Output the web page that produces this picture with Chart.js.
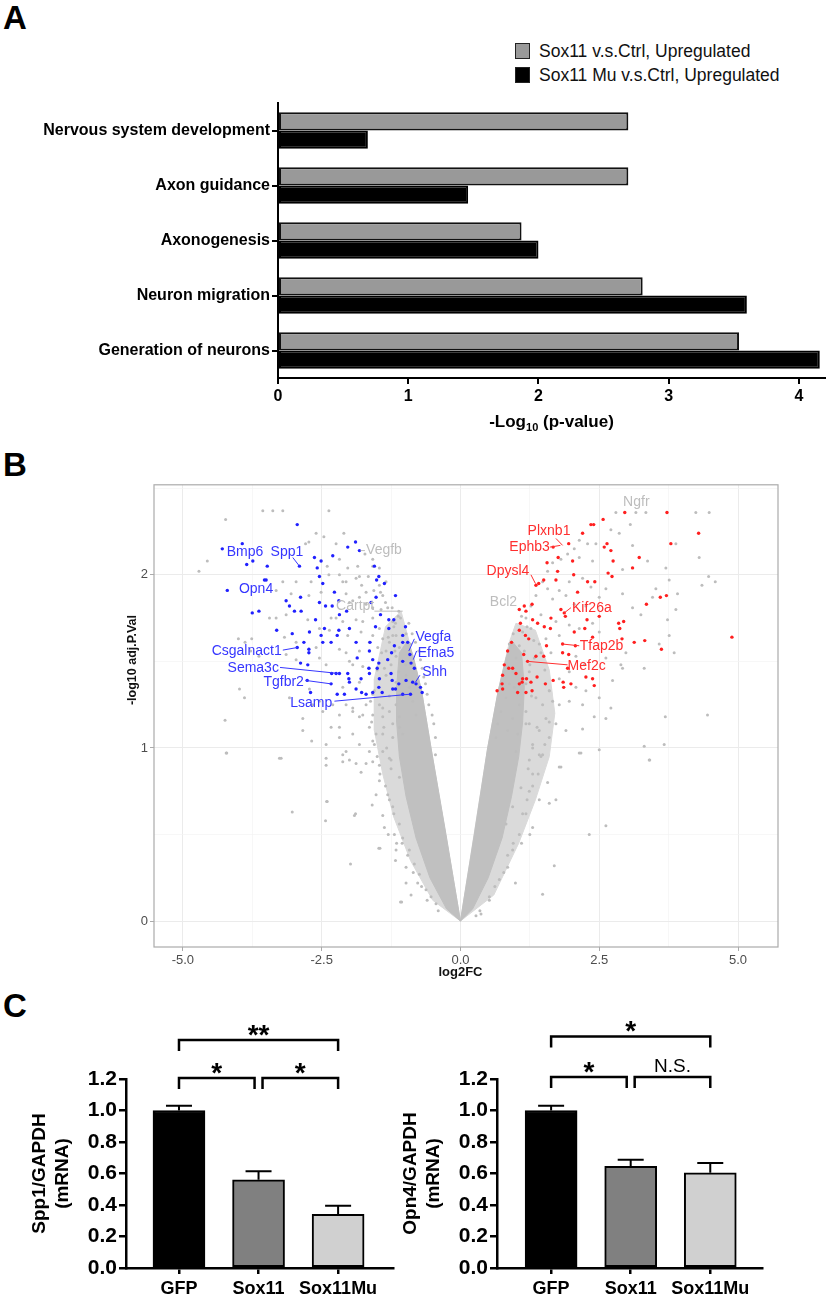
<!DOCTYPE html>
<html>
<head>
<meta charset="utf-8">
<script src="https://cdn.jsdelivr.net/npm/chart.js@4.4.1/dist/chart.umd.min.js"></script>
<style>
  html, body { margin: 0; padding: 0; background: #fff; }
  body { width: 828px; height: 1298px; position: relative; overflow: hidden; font-family: "Liberation Sans", Arial, sans-serif; }
  .letter { position: absolute; left: 3px; font-weight: bold; font-size: 33px; line-height: 1; color: #000; }
  .holder { position: absolute; }
  canvas { display: block; }
  .legend-row { position: absolute; left: 515px; height: 20px; display: flex; align-items: center; font-size: 17.5px; color: #111; white-space: nowrap; }
  .swatch { width: 13px; height: 14px; border: 1.5px solid #222; margin-right: 9px; }
</style>
</head>
<body>

<div class="letter" style="top:1px">A</div>
<div class="letter" style="top:448px">B</div>
<div class="letter" style="top:989px">C</div>

<div class="legend-row" style="top:41px"><span class="swatch" style="background:#999"></span><span id="legA0"></span></div>
<div class="legend-row" style="top:65px"><span class="swatch" style="background:#000"></span><span id="legA1"></span></div>

<div class="holder" style="left:0;top:90px"><canvas id="chartA" width="828" height="345"></canvas></div>
<div class="holder" style="left:100px;top:475px"><canvas id="chartB" width="700" height="515"></canvas></div>
<div class="holder" style="left:0;top:1000px"><canvas id="chartC1" width="414" height="298"></canvas></div>
<div class="holder" style="left:380px;top:1000px"><canvas id="chartC2" width="448" height="298"></canvas></div>

<script>
// ========================================
// FIGURE DATA
// ========================================

// Panel A: GO terms, -log10 p-values
const termsA = ["Nervous system development", "Axon guidance", "Axonogenesis", "Neuron migration", "Generation of neurons"]
const seriesNamesA = ["Sox11 v.s.Ctrl, Upregulated", "Sox11 Mu v.s.Ctrl, Upregulated"]
const sox11Up = [2.69, 2.69, 1.87, 2.80, 3.54]
const sox11MuUp = [0.69, 1.46, 2.00, 3.60, 4.16]

// Panel B: volcano, [log2FC, -log10 adj.P.Val]
// outlines of the dense bands of the cloud
const coreLeft = [[0,0],[-0.26,0.5],[-0.53,1.0],[-0.7,1.33],[-0.85,1.53],[-0.95,1.62],[-1.1,1.55],[-1.15,1.35],[-1.15,1.15],[-1.1,0.95],[-0.98,0.72],[-0.8,0.48],[-0.55,0.25],[-0.25,0.07],[0,0]]
const coreRight = [[0,0],[0.25,0.5],[0.49,1.0],[0.68,1.33],[0.82,1.52],[0.92,1.62],[1.1,1.55],[1.15,1.35],[1.12,1.15],[1.05,0.95],[0.92,0.72],[0.75,0.48],[0.5,0.25],[0.22,0.07],[0,0]]
const haloLeft = [[0,0],[-0.53,1.0],[-0.7,1.33],[-0.92,1.61],[-1.07,1.79],[-1.35,1.7],[-1.55,1.4],[-1.55,1.1],[-1.4,0.85],[-1.2,0.6],[-0.9,0.35],[-0.5,0.12],[0,0]]
const haloRight = [[0,0],[0.49,1.0],[0.68,1.33],[0.88,1.61],[1.0,1.72],[1.35,1.68],[1.6,1.45],[1.7,1.2],[1.6,0.95],[1.35,0.7],[1.05,0.45],[0.6,0.15],[0,0]]

const grayGenes = [
  [-3.56,2.37],[-3.38,2.37],[-3.20,2.37],[-2.37,2.37],[-4.23,2.32],[-4.56,2.08],[-4.71,2.02],
  [-2.79,2.18],[-2.73,2.19],[-2.60,2.24],[-2.46,2.22],[-2.10,2.24],[-2.24,2.18],[-1.72,2.12],[-1.58,2.05],[-1.85,2.05],[-2.03,2.04],[-2.18,2.09],[-2.40,2.05],[-2.37,2.00],[-2.18,2.00],[-2.06,1.96],[-1.88,1.98],[-1.78,1.94],[-1.66,1.99],[-1.56,1.91],[-1.44,1.90],[-1.35,1.84],[-1.23,1.81],[-1.11,1.79],[-1.08,1.75],[-1.17,1.72],[-0.93,1.72],[-0.87,1.66],[-0.81,1.61],[-0.75,1.56],[-0.72,1.51],[-0.69,1.46],[-0.66,1.41],[-0.63,1.37],[-0.60,1.31],[-0.57,1.25],[-0.51,1.19],[-0.48,1.14],[-0.45,1.06],[-0.45,0.96],
  [-2.96,1.96],[-3.20,1.96],[-2.69,1.96],[-3.32,1.91],[-3.05,1.89],[-2.73,1.88],[-2.51,1.90],[-2.06,1.89],[-1.94,1.85],[-1.82,1.87],[-1.70,1.83],[-3.14,1.77],[-3.44,1.75],[-3.32,1.75],[-2.75,1.74],[-2.33,1.75],[-2.12,1.73],[-1.88,1.74],[-1.58,1.75],[-1.43,1.80],[-2.54,1.69],[-2.36,1.68],[-2.03,1.65],[-1.79,1.67],[-1.58,1.65],[-1.40,1.63],[-1.22,1.65],[-4.00,1.63],[-3.88,1.61],[-3.76,1.63],[-3.17,1.64],[-2.96,1.61],[-2.60,1.58],[-2.18,1.57],[-2.06,1.55],[-1.82,1.56],[-1.49,1.58],[-1.34,1.56],[-1.16,1.53],[-3.78,1.56],[-3.63,1.53],[-3.14,1.54],[-2.96,1.51],[-2.54,1.52],[-2.42,1.48],[-1.94,1.48],[-1.76,1.47],[-1.37,1.46],[-1.11,1.44],[-0.99,1.48],
  [-3.98,1.34],[-3.89,1.29],[-4.24,1.16],[-4.21,0.97],[-3.26,0.94],[-3.08,1.29],[-2.84,1.17],[-2.72,1.34],[-2.66,1.25],[-2.54,1.27],[-2.48,1.21],[-2.30,1.25],[-2.18,1.19],[-2.06,1.25],[-1.94,1.21],[-1.82,1.18],[-1.70,1.25],[-1.58,1.19],[-1.46,1.25],[-1.40,1.18],[-1.28,1.21],[-1.16,1.25],[-1.10,1.18],[-1.64,1.12],[-1.94,1.08],[-2.18,1.06],[-2.33,1.12],[-2.42,1.02],[-2.06,0.98],[-1.82,1.02],[-1.58,1.04],[-1.40,1.08],[-1.22,1.06],[-1.10,1.12],[-2.68,1.04],[-2.84,1.10],[-2.12,0.92],[-1.88,0.91],[-1.58,0.92],[-1.28,0.94],
  [-0.80,1.19],[-0.86,1.27],[-0.92,1.35],[-0.98,1.42],[-1.04,1.50],[-1.10,1.58],[-1.16,1.65],[-1.22,1.73],[-1.31,1.81],[-1.40,1.88],[-1.46,1.94],[-1.22,1.14],[-1.40,1.23],[-1.58,1.31],[-1.76,1.19],[-1.52,1.08],[-1.04,1.08],[-1.16,1.38],[-1.34,1.42],[-1.64,1.46],[-1.82,1.38],[-2.00,1.50],[-2.12,1.35],[-1.94,1.23],[-2.18,1.12],[-1.28,1.61],[-1.46,1.69],[-1.64,1.61],[-1.76,1.73],[-1.58,1.81],[-1.70,1.90],[-1.82,1.99],[-2.00,1.84],[-2.12,1.96],[-2.24,1.75],[-1.34,1.96],[-1.46,2.04],[-1.58,2.09],
  [-2.42,0.94],[-2.42,0.90],[-2.40,0.69],[-2.43,0.58],[-1.91,0.61],[-1.98,0.33],[-1.47,0.42],[-1.08,0.11],[-0.98,0.22],[-0.89,0.15],[-1.17,0.35],[-1.16,0.41],[-1.40,0.61],[-1.59,0.67],[-2.12,0.96],[-2.00,0.93],[-1.79,0.86],[-1.70,0.91],[-1.46,0.81],[-1.31,0.73],[-1.22,0.66],[-1.10,0.56],[-1.04,0.48],[-0.92,0.41],[-0.83,0.33],[-0.74,0.27],[-0.62,0.18],[-0.53,0.14],[-0.44,0.10],[-1.52,0.73],[-1.64,0.98],[-1.40,0.98],[-1.25,0.93],[-1.46,0.90],[-1.10,0.83],[-1.37,0.54],[-1.19,0.50],[-0.98,0.31],[-0.77,0.22],
  [-1.20,0.62],[-1.28,0.70],[-1.35,0.78],[-1.05,0.45],[-0.95,0.38],[-0.70,0.20],[-0.60,0.12],[-0.40,0.06],[-1.45,0.85],[-1.50,0.95],[-1.55,1.02],[-1.60,1.15],[-1.62,1.27],[-1.55,1.33],[-1.50,1.45],[-1.42,1.55],[-1.30,1.64],[-1.20,1.70],[-1.12,1.76],[-0.98,1.66],[-0.90,1.60],[-1.30,0.50],[-1.15,0.45],[-0.85,0.28],[-1.25,0.88],[-1.33,1.00],[-1.38,1.12],[-1.28,1.30],[-1.25,1.48],[-1.18,1.56],
  [-4.22,0.97],[-3.23,0.94],[-3.03,0.63],[-2.41,0.69],[-1.89,0.62],[-1.45,0.42],[-1.06,0.11],
  [1.48,0.155],[1.69,0.32],[0.99,0.22],[2.32,0.50],[2.62,0.55],[1.30,0.54],[1.72,0.70],[1.60,0.68],[1.42,0.70],[1.81,0.89],[2.17,0.97],[2.50,0.99],[1.57,0.80],[1.30,0.85],[1.24,0.93],[1.00,0.98],[1.42,0.96],[0.85,0.31],[0.70,0.24],[0.52,0.14],[0.37,0.04],[0.28,0.03],[0.94,0.41],[1.06,0.50],[1.18,0.62],[1.24,0.75],[1.09,0.77],[0.94,0.66],[0.82,0.56],[3.41,0.93],
  [1.12,0.62],[1.20,0.70],[1.30,0.78],[0.95,0.45],[0.85,0.38],[0.62,0.20],[0.52,0.12],[0.35,0.06],[1.40,0.85],[1.45,0.95],[1.52,1.02],[1.60,1.15],[1.66,1.27],[1.60,1.33],[1.52,1.45],[1.45,1.55],[1.32,1.62],[1.20,1.70],[1.10,1.76],[0.95,1.66],[0.88,1.60],[1.25,0.50],[1.10,0.45],[0.78,0.28],[1.22,0.88],[1.30,1.00],[1.38,1.12],[1.28,1.30],[1.25,1.48],[1.15,1.56],
  [2.80,2.36],[3.16,2.36],[3.34,2.36],[4.24,2.36],[4.48,2.36],[3.06,2.29],[4.30,2.10],[3.88,2.18],[3.37,2.08],[3.10,2.17],[2.86,2.24],[2.71,2.26],[2.44,2.18],[2.29,2.18],[2.14,2.20],[2.05,2.15],[1.93,2.12],[1.81,2.09],[2.14,2.10],[2.38,2.08],[2.92,2.03],[3.70,2.04],[3.76,1.97],[4.47,1.99],[4.59,1.96],[4.35,1.94],[3.91,1.89],[3.52,1.92],[2.92,1.89],[2.62,1.92],[2.50,1.87],[2.35,1.93],[2.20,1.98],[1.96,1.96],[1.90,1.88],[1.78,1.91],[1.66,1.86],[1.57,1.92],[2.05,1.83],[2.26,1.82],[3.10,1.81],[3.25,1.77],[3.73,1.74],[3.88,1.80],[3.76,1.65],[3.85,1.55],[3.58,1.60],[3.31,1.46],[2.98,1.55],[2.89,1.48],[2.74,1.39],[2.62,1.52],[2.50,1.67],[2.38,1.72],[2.14,1.69],[1.96,1.71],[1.72,1.73],[1.78,1.65],[1.54,1.63],[1.42,1.60],[1.63,1.55],[2.08,1.53],[2.23,1.48],[1.96,1.44],[1.78,1.40],[2.08,1.35],[2.26,1.33],[2.50,1.29],[2.71,1.23],[2.41,1.18],[2.62,1.17],[2.20,1.25],[1.96,1.27],[1.78,1.25],[1.60,1.33],[1.48,1.25],[1.36,1.29],[1.54,1.17],[1.72,1.14],[1.90,1.10],[1.60,1.06],[1.42,1.10],[1.24,1.14],[1.18,1.21],[1.30,1.02],[1.48,0.96],[1.78,0.89],[2.14,0.97],[2.20,1.11],[3.69,1.18],[4.45,1.19],[3.31,1.01],[3.67,1.02],[3.40,0.93],[2.92,1.46],[3.46,1.87],
  [0.88,1.37],[0.94,1.44],[1.00,1.52],[1.06,1.59],[1.12,1.67],[1.18,1.75],[1.27,1.82],[1.36,1.88],[1.48,1.96],[1.57,2.02],[1.66,2.07],[0.82,1.29],[0.73,1.21],[0.67,1.14],[0.64,1.06],[0.97,1.35],[1.18,1.37],[1.06,1.25],[0.94,1.17],[0.85,1.10],[1.03,1.08],[1.18,1.14],[1.24,1.44],[1.33,1.52],[1.27,1.69],[1.45,1.77]
]

const downGenes = [
  [-2.94,2.29],[-3.93,2.18],[-4.29,2.15],[-3.85,2.06],[-3.74,2.08],[-3.48,2.05],[-2.90,2.05],[-3.53,1.97],[-3.50,1.97],[-4.20,1.91],[-3.14,1.85],[-2.88,1.87],[-3.08,1.82],[-2.99,1.79],[-2.87,1.79],[-3.75,1.78],[-3.63,1.79],[-3.31,1.68],[-3.03,1.66],[-2.72,1.67],[-2.82,1.61],[-2.94,1.58],[-2.73,1.57],[-2.73,1.55],[-2.88,1.49],[-2.75,1.48],[-2.76,1.39],[-2.70,1.32],[-2.63,2.10],[-2.58,2.04],[-2.51,2.08],[-2.54,1.99],[-2.48,1.95],[-2.30,2.11],[-2.03,2.16],[-1.89,2.19],[-1.82,2.14],[-2.54,1.84],[-2.43,1.82],[-2.31,1.82],[-2.19,1.85],[-2.27,1.90],[-2.18,1.77],[-2.05,1.79],[-2.61,1.74],[-2.45,1.69],[-2.51,1.65],[-2.19,1.68],[-2.22,1.65],[-2.48,1.61],[-2.33,1.61],[-2.00,1.69],[-1.88,1.61],[-1.63,1.61],[-1.61,1.84],[-1.52,1.87],[-1.55,2.05],[-1.51,1.97],[-1.47,1.99],[-1.37,1.95],[-1.17,1.88],[-1.44,1.77],[-1.29,1.74],[-1.20,1.74],[-1.29,1.69],[-1.53,1.70],[-0.99,1.70],[-1.04,1.65],[-0.95,1.61],[-1.19,1.59],[-1.24,1.55],[-1.04,1.61],[-0.91,1.54],[-1.31,1.51],[-1.04,1.50],[-0.89,1.49],[-0.83,1.46],[-1.65,1.46],[-1.47,1.49],[-1.25,1.43],[-0.98,1.39],[-0.86,1.38],[-0.80,1.37],[-0.72,1.35],[-0.69,1.32],[-1.11,1.37],[-1.22,1.34],[-1.46,1.40],[-1.47,1.35],[-1.41,1.32],[-1.64,1.43],[-1.79,1.40],[-1.88,1.34],[-1.78,1.32],[-1.70,1.31],[-1.58,1.32],[-2.00,1.38],[-2.01,1.40],[-2.22,1.31],[-2.09,1.31],[-2.32,1.43],[-2.24,1.43],[-2.18,1.43],[-2.03,1.43],[-2.33,1.37],[-0.90,1.31],[-1.04,1.31],[-1.17,1.34],[-1.23,1.39],[-1.50,1.46],[-1.86,1.52],[-1.64,1.56],[-1.58,1.51]
]

const upGenes = [
  [2.96,2.36],[3.72,2.36],[2.57,2.32],[2.35,2.29],[2.40,2.29],[4.29,2.24],[2.20,2.24],[1.95,2.18],[1.67,2.16],[2.64,2.18],[3.79,2.18],[2.59,2.16],[2.71,2.14],[1.76,2.10],[3.22,2.10],[2.75,2.08],[2.02,2.08],[1.56,2.07],[3.10,2.04],[1.75,2.02],[2.66,2.01],[2.04,2.00],[2.73,1.99],[2.29,1.96],[2.42,1.96],[1.72,1.97],[1.50,1.97],[1.41,1.95],[1.36,1.94],[2.11,1.90],[3.60,1.87],[3.71,1.88],[3.35,1.83],[1.81,1.80],[1.87,1.78],[1.89,1.76],[1.06,1.80],[1.15,1.82],[1.18,1.79],[1.29,1.83],[2.50,1.76],[2.28,1.74],[1.51,1.70],[1.39,1.72],[1.62,1.69],[1.08,1.72],[2.85,1.72],[2.94,1.73],[2.87,1.69],[2.24,1.69],[2.05,1.67],[1.06,1.68],[1.17,1.65],[1.23,1.63],[2.38,1.64],[2.91,1.63],[3.13,1.61],[3.32,1.62],[3.62,1.57],[4.89,1.64],[0.92,1.61],[0.85,1.56],[1.55,1.59],[1.84,1.60],[2.07,1.59],[1.84,1.55],[1.95,1.54],[1.14,1.54],[1.36,1.53],[1.50,1.53],[1.21,1.50],[0.79,1.48],[0.94,1.46],[0.76,1.42],[1.93,1.46],[2.26,1.41],[2.38,1.40],[1.00,1.43],[1.12,1.40],[1.19,1.40],[1.38,1.41],[1.06,1.37],[1.11,1.38],[1.27,1.38],[1.53,1.37],[1.67,1.39],[1.85,1.38],[1.86,1.35],[1.99,1.37],[2.41,1.36],[0.75,1.37],[0.66,1.33],[0.76,1.34],[1.03,1.32],[1.18,1.32],[1.29,1.33],[0.87,1.46],[1.63,1.75],[1.30,1.74]
]

const xTicksB = [-5, -2.5, 0, 2.5, 5]
const yTicksB = [0, 1, 2]

// gene names: text, colour group, anchor (label side), optional leader [x1,y1,x2,y2]
const geneLabels = [
  { text: "Bmp6", group: "down", x: -4.21, y: 2.13, align: "left" },
  { text: "Spp1", group: "down", x: -3.42, y: 2.13, align: "left", line: [-3.02, 2.10, -2.90, 2.05] },
  { text: "Opn4", group: "down", x: -3.99, y: 1.92, align: "left" },
  { text: "Csgalnact1", group: "down", x: -3.22, y: 1.56, align: "right", line: [-3.20, 1.565, -2.94, 1.58] },
  { text: "Sema3c", group: "down", x: -3.27, y: 1.46, align: "right", line: [-3.25, 1.465, -2.19, 1.43] },
  { text: "Tgfbr2", group: "down", x: -2.82, y: 1.38, align: "right", line: [-2.79, 1.39, -2.33, 1.37] },
  { text: "Lsamp", group: "down", x: -2.31, y: 1.26, align: "right", line: [-2.27, 1.27, -0.92, 1.31] },
  { text: "Vegfa", group: "down", x: -0.81, y: 1.64, align: "left", line: [-0.83, 1.63, -0.93, 1.56] },
  { text: "Efna5", group: "down", x: -0.77, y: 1.55, align: "left", line: [-0.79, 1.56, -0.85, 1.51] },
  { text: "Shh", group: "down", x: -0.69, y: 1.44, align: "left", line: [-0.73, 1.42, -0.81, 1.38] },
  { text: "Vegfb", group: "ns", x: -1.70, y: 2.14, align: "left", line: [-1.72, 2.14, -1.80, 2.14] },
  { text: "Cartpt", group: "ns", x: -2.24, y: 1.82, align: "left", line: [-1.55, 1.79, -1.04, 1.79] },
  { text: "Plxnb1", group: "up", x: 1.21, y: 2.25, align: "left", line: [1.72, 2.21, 1.84, 2.17] },
  { text: "Ephb3", group: "up", x: 0.88, y: 2.16, align: "left", line: [1.61, 2.16, 1.80, 2.17] },
  { text: "Dpysl4", group: "up", x: 0.47, y: 2.02, align: "left", line: [1.27, 2.00, 1.35, 1.95] },
  { text: "Kif26a", group: "up", x: 2.01, y: 1.81, align: "left", line: [1.99, 1.81, 1.87, 1.78] },
  { text: "Tfap2b", group: "up", x: 2.15, y: 1.59, align: "left", line: [2.14, 1.59, 1.84, 1.60] },
  { text: "Mef2c", group: "up", x: 1.93, y: 1.47, align: "left", line: [1.93, 1.48, 1.21, 1.50] },
  { text: "Ngfr", group: "ns", x: 2.93, y: 2.42, align: "left" },
  { text: "Bcl2", group: "ns", x: 0.53, y: 1.84, align: "left" },
]

// Panel C: qPCR, mean and SEM
const groupsC = ["GFP", "Sox11", "Sox11Mu"]
const spp1Mean = [1.00, 0.56, 0.34]
const spp1Sem = [0.03, 0.055, 0.055]
const opn4Mean = [1.00, 0.645, 0.605]
const opn4Sem = [0.03, 0.043, 0.062]
const yTicksC = [0, 0.2, 0.4, 0.6, 0.8, 1.0, 1.2]
const spp1Brackets = [
  { from: 1, to: 3, y: 1.448, text: "**" },
  { from: 1, to: 1.95, y: 1.206, text: "*" },
  { from: 2.05, to: 3, y: 1.206, text: "*" },
]
const opn4Brackets = [
  { from: 1, to: 3, y: 1.47, text: "*" },
  { from: 1, to: 1.95, y: 1.213, text: "*" },
  { from: 2.05, to: 3, y: 1.213, text: "N.S." },
]

// ========================================
// SHARED SETTINGS
// ========================================
const FONT = '"Liberation Sans", Arial, sans-serif'
Chart.defaults.font.family = FONT
Chart.defaults.animation = false
Chart.defaults.responsive = false
Chart.defaults.devicePixelRatio = 1
Chart.defaults.plugins.legend.display = false
Chart.defaults.plugins.tooltip.enabled = false

const toXY = (p) => ({ x: p[0], y: p[1] })

document.getElementById("legA0").textContent = seriesNamesA[0]
document.getElementById("legA1").textContent = seriesNamesA[1]

// ========================================
// PANEL A
// ========================================
const titleA = {
  id: "titleA",
  afterDraw(chart) {
    const { ctx, chartArea, scales } = chart
    const cx = (chartArea.left + chartArea.right) / 2
    const cy = scales.x.bottom - 13
    const big = "bold 17px " + FONT
    const small = "bold 11px " + FONT
    ctx.save()
    ctx.fillStyle = "#000"
    ctx.textBaseline = "middle"
    ctx.textAlign = "left"
    ctx.font = big
    const w1 = ctx.measureText("-Log").width
    const w3 = ctx.measureText(" (p-value)").width
    ctx.font = small
    const w2 = ctx.measureText("10").width
    let x = cx - (w1 + w2 + w3) / 2
    ctx.font = big
    ctx.fillText("-Log", x, cy)
    x += w1
    ctx.font = small
    ctx.fillText("10", x, cy + 6)
    x += w2
    ctx.font = big
    ctx.fillText(" (p-value)", x, cy)
    ctx.restore()
  },
}

new Chart(document.getElementById("chartA"), {
  type: "bar",
  data: {
    labels: termsA,
    datasets: [
      { label: seriesNamesA[0], data: sox11Up, backgroundColor: "#999999", borderColor: "#111", borderWidth: 2, borderSkipped: false, categoryPercentage: 0.66, barPercentage: 1.0 },
      { label: seriesNamesA[1], data: sox11MuUp, backgroundColor: "#000", borderColor: "#000", borderWidth: 2, borderSkipped: false, categoryPercentage: 0.66, barPercentage: 1.0 },
    ],
  },
  options: {
    indexAxis: "y",
    layout: { padding: { top: 13, right: 3, left: 0, bottom: 0 } },
    scales: {
      x: {
        type: "linear", min: 0, max: 4.2,
        afterFit: (s) => { s.height = 57 },
        ticks: { stepSize: 1, includeBounds: false, color: "#000", font: { size: 16, weight: "bold" }, padding: 3, maxRotation: 0 },
        grid: { drawOnChartArea: false, tickLength: 6, color: "#000", lineWidth: 2 },
        border: { color: "#000", width: 2 },
      },
      y: {
        afterFit: (s) => { s.width = 278 },
        ticks: { autoSkip: false, color: "#000", font: { size: 16, weight: "bold" }, padding: 2 },
        grid: { offset: false, drawOnChartArea: false, tickLength: 6, color: "#000", lineWidth: 2 },
        border: { color: "#000", width: 2 },
      },
    },
  },
  plugins: [titleA],
})

// ========================================
// PANEL B
// ========================================
const labelColours = { down: "#3636ff", up: "#ff2e2e", ns: "#bdbdbd" }

const volcanoExtras = {
  id: "volcanoExtras",
  afterDatasetsDraw(chart) {
    const { ctx, chartArea, scales: { x, y } } = chart
    ctx.save()
    // ggplot panel border
    ctx.strokeStyle = "#ababab"
    ctx.lineWidth = 1.2
    ctx.strokeRect(chartArea.left, chartArea.top, chartArea.right - chartArea.left, chartArea.bottom - chartArea.top)

    ctx.font = "14px " + FONT
    ctx.textBaseline = "middle"
    ctx.lineWidth = 1
    for (const lab of geneLabels) {
      const c = labelColours[lab.group]
      ctx.fillStyle = c
      ctx.strokeStyle = c
      if (lab.line) {
        ctx.beginPath()
        ctx.moveTo(x.getPixelForValue(lab.line[0]), y.getPixelForValue(lab.line[1]))
        ctx.lineTo(x.getPixelForValue(lab.line[2]), y.getPixelForValue(lab.line[3]))
        ctx.stroke()
      }
      ctx.textAlign = lab.align
      ctx.fillText(lab.text, x.getPixelForValue(lab.x), y.getPixelForValue(lab.y))
    }

    // axis titles
    ctx.fillStyle = "#111"
    ctx.textAlign = "center"
    ctx.font = "bold 13px " + FONT
    ctx.fillText("log2FC", x.getPixelForValue(0), 497)
    ctx.translate(33, 185)
    ctx.rotate(-Math.PI / 2)
    ctx.font = "bold 12.5px " + FONT
    ctx.fillText("-log10 adj.P.Val", 0, 0)
    ctx.restore()
  },
}

const isOn = (v, list) => list.some((t) => Math.abs(t - v) < 1e-6)

function area(points, colour, order) {
  return {
    type: "line", data: points.map(toXY), showLine: true, fill: "shape",
    backgroundColor: colour, borderColor: colour, borderWidth: 1,
    pointRadius: 0, tension: 0, order: order,
  }
}

function dots(points, colour, r, order) {
  return {
    type: "scatter", data: points.map(toXY),
    pointRadius: r, pointBackgroundColor: colour, pointBorderColor: colour, pointBorderWidth: 0,
    order: order,
  }
}

new Chart(document.getElementById("chartB"), {
  type: "scatter",
  data: {
    datasets: [
      dots(upGenes, "#ff1f1f", 1.7, 1),
      dots(downGenes, "#2020ff", 1.7, 2),
      dots(grayGenes, "#bdbdbd", 1.5, 3),
      area(coreLeft, "#c0c0c0", 4),
      area(coreRight, "#c0c0c0", 4),
      area(haloLeft, "#dadada", 5),
      area(haloRight, "#dadada", 5),
    ],
  },
  options: {
    layout: { padding: { top: 7, right: 22, left: 0, bottom: 0 } },
    scales: {
      x: {
        type: "linear", min: -5.52, max: 5.72,
        afterFit: (s) => { s.height = 43 },
        ticks: {
          stepSize: 1.25, includeBounds: false, autoSkip: false, maxRotation: 0,
          color: "#4d4d4d", font: { size: 13 }, padding: 2,
          callback: (v) => (isOn(v, xTicksB) ? v.toFixed(1) : ""),
        },
        grid: {
          color: (c) => (isOn(c.tick.value, xTicksB) ? "#ebebeb" : "#f4f4f4"),
          lineWidth: (c) => (isOn(c.tick.value, xTicksB) ? 1 : 0.7),
          tickColor: (c) => (isOn(c.tick.value, xTicksB) ? "#ababab" : "rgba(0,0,0,0)"),
          tickLength: 4,
        },
        border: { display: false },
      },
      y: {
        type: "linear", min: -0.15, max: 2.52,
        afterFit: (s) => { s.width = 54 },
        ticks: {
          stepSize: 0.5, includeBounds: false, autoSkip: false,
          color: "#4d4d4d", font: { size: 13 }, padding: 2,
          callback: (v) => (isOn(v, yTicksB) ? String(v) : ""),
        },
        grid: {
          color: (c) => (isOn(c.tick.value, yTicksB) ? "#ebebeb" : "#f4f4f4"),
          lineWidth: (c) => (isOn(c.tick.value, yTicksB) ? 1 : 0.7),
          tickColor: (c) => (isOn(c.tick.value, yTicksB) ? "#ababab" : "rgba(0,0,0,0)"),
          tickLength: 4,
        },
        border: { display: false },
      },
    },
  },
  plugins: [volcanoExtras],
})

// ========================================
// PANEL C
// ========================================
function barExtras(sem, brackets) {
  return {
    id: "barExtras",
    afterDatasetsDraw(chart) {
      const { ctx, scales: { x, y } } = chart
      const ds = chart.data.datasets[0]
      const meta = chart.getDatasetMeta(0)
      ctx.save()
      ctx.strokeStyle = "#000"
      ctx.fillStyle = "#000"
      ctx.lineWidth = 2
      meta.data.forEach((bar, i) => {
        const v = ds.data[i].y
        const top = y.getPixelForValue(v)
        const errTop = y.getPixelForValue(v + sem[i])
        ctx.beginPath()
        ctx.moveTo(bar.x, top)
        ctx.lineTo(bar.x, errTop)
        ctx.moveTo(bar.x - 13, errTop)
        ctx.lineTo(bar.x + 13, errTop)
        ctx.stroke()
      })
      ctx.lineWidth = 2.5
      ctx.textAlign = "center"
      ctx.textBaseline = "alphabetic"
      for (const b of brackets) {
        const x1 = x.getPixelForValue(b.from)
        const x2 = x.getPixelForValue(b.to)
        const yTop = y.getPixelForValue(b.y)
        const yDrop = yTop + 11
        ctx.beginPath()
        ctx.moveTo(x1, yDrop)
        ctx.lineTo(x1, yTop)
        ctx.lineTo(x2, yTop)
        ctx.lineTo(x2, yDrop)
        ctx.stroke()
        const cx = (x1 + x2) / 2
        const cy = yTop - 12
        if (b.text === "N.S.") {
          ctx.font = "19px " + FONT
          ctx.fillText(b.text, cx, cy + 7)
        } else {
          ctx.font = "bold 28px " + FONT
          ctx.fillText(b.text, cx, cy + 16)
        }
      }
      ctx.restore()
    },
  }
}

function qpcrChart(canvasId, means, sem, brackets, title, axisWidth, rightPad, xMin, xMax, titlePad) {
  return new Chart(document.getElementById(canvasId), {
    type: "bar",
    data: {
      datasets: [{
        data: means.map((m, i) => ({ x: i + 1, y: m })),
        backgroundColor: ["#000000", "#808080", "#d0d0d0"],
        borderColor: "#000", borderWidth: 2, borderSkipped: false, barThickness: 52,
      }],
    },
    options: {
      layout: { padding: { top: 79, right: rightPad, left: 0, bottom: 0 } },
      scales: {
        x: {
          type: "linear", min: xMin, max: xMax, offset: false,
          afterFit: (s) => { s.height = 30 },
          afterBuildTicks: (s) => { s.ticks = groupsC.map((g, i) => ({ value: i + 1 })) },
          ticks: { autoSkip: false, maxRotation: 0, color: "#000", font: { size: 18, weight: "bold" }, padding: 4, callback: (v) => groupsC[Math.round(v) - 1] },
          grid: { offset: false, drawOnChartArea: false, tickLength: 6, color: "#000", lineWidth: 2.5 },
          border: { color: "#000", width: 2.5 },
        },
        y: {
          min: 0, max: 1.2,
          afterFit: (s) => { s.width = axisWidth },
          afterBuildTicks: (s) => { s.ticks = yTicksC.map((v) => ({ value: v })) },
          ticks: { color: "#000", font: { size: 21, weight: "bold" }, padding: 2, callback: (v) => v.toFixed(1) },
          grid: { drawOnChartArea: false, tickLength: 7, color: "#000", lineWidth: 2.5 },
          border: { color: "#000", width: 2.5 },
          title: { display: true, text: title, color: "#000", font: { size: 19, weight: "bold" }, padding: { top: titlePad, bottom: 0 } },
        },
      },
    },
    plugins: [barExtras(sem, brackets)],
  })
}

qpcrChart("chartC1", spp1Mean, spp1Sem, spp1Brackets, ["Spp1/GAPDH", "(mRNA)"], 126, 21, 0.334, 3.69, 28.6)
qpcrChart("chartC2", opn4Mean, opn4Sem, opn4Brackets, ["Opn4/GAPDH", "(mRNA)"], 117, 66, 0.32, 3.65, 19.6)
</script>
</body>
</html>
